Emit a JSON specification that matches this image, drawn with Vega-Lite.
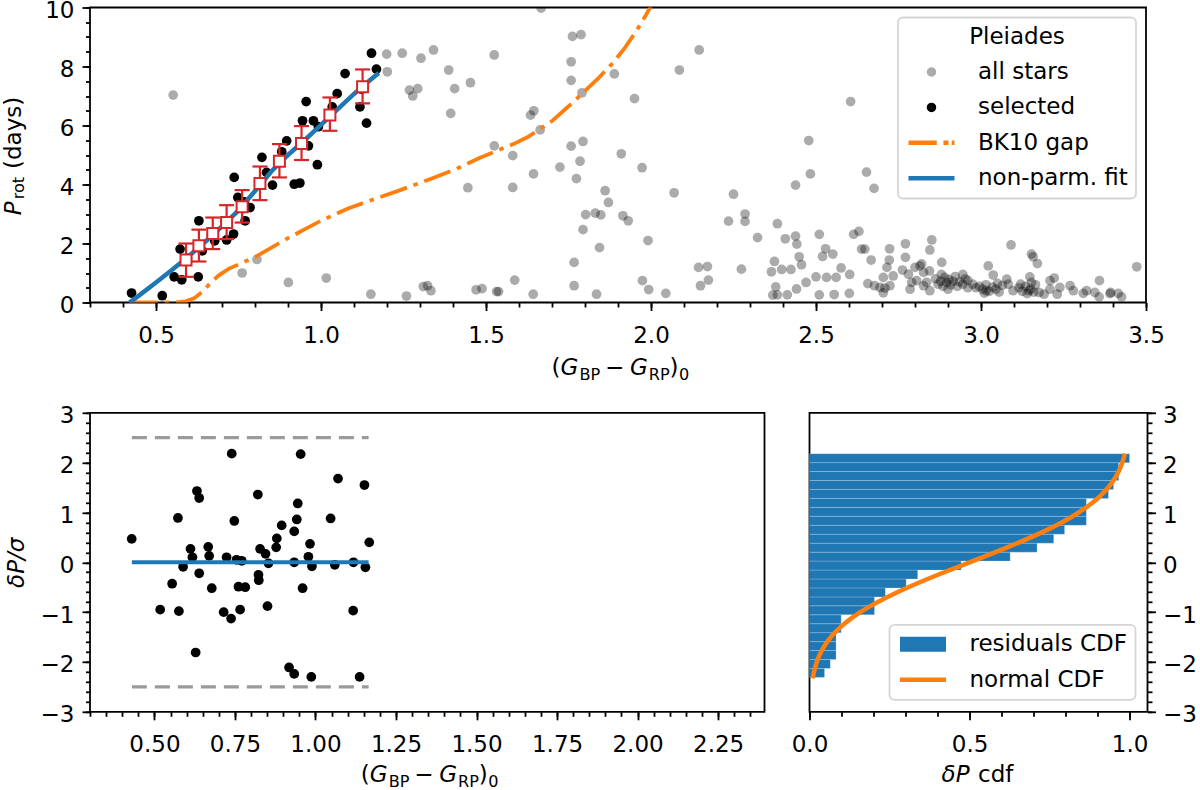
{
  "$schema": "https://vega.github.io/schema/vega-lite/v6.json",
  "background": "white",
  "padding": {"left": 1, "top": -1.5, "right": 2, "bottom": 0},
  "bounds": "flush",
  "spacing": 110.3,
  "config": {
    "font": "DejaVu Sans",
    "view": {"stroke": "#000000", "strokeWidth": 1.8},
    "axis": {
      "domain": false, "grid": false, "tickColor": "#000000", "tickWidth": 1.8,
      "labelFont": "DejaVu Sans", "labelFontSize": 23, "labelColor": "#000000",
      "titleFont": "DejaVu Sans", "titleFontSize": 23, "titleFontWeight": "normal", "titleColor": "#000000",
      "labelOverlap": false, "labelFlush": false, "labelBound": false
    },
    "legend": {
      "labelFont": "DejaVu Sans", "labelFontSize": 23, "labelColor": "#000000",
      "titleFont": "DejaVu Sans", "titleFontSize": 23, "titleFontWeight": "normal", "titleColor": "#000000",
      "fillColor": "rgba(255,255,255,0.85)", "strokeColor": "#d5d5d5", "strokeWidth": 1.8, "cornerRadius": 5,
      "padding": 8, "rowPadding": 11.4, "titleAnchor": "middle", "titlePadding": 12, "labelLimit": 400
    }
  },
  "datasets": {
    "allstars": [
      {"c":0.552,"p":7.03},{"c":0.761,"p":1.0},{"c":0.806,"p":1.46},{"c":0.901,"p":0.68},{"c":1.016,"p":0.83},{"c":1.151,"p":0.28},
      {"c":1.199,"p":8.42},{"c":1.246,"p":8.45},{"c":1.303,"p":8.28},{"c":1.341,"p":8.56},{"c":1.201,"p":7.82},{"c":1.387,"p":7.88},
      {"c":1.525,"p":8.39},{"c":1.268,"p":7.2},{"c":1.293,"p":7.25},{"c":1.278,"p":7.0},{"c":1.405,"p":7.25},{"c":1.453,"p":7.45},
      {"c":1.393,"p":6.41},{"c":1.645,"p":6.5},{"c":1.635,"p":6.35},{"c":1.664,"p":5.85},{"c":1.525,"p":5.31},{"c":1.581,"p":4.98},
      {"c":1.445,"p":3.89},{"c":1.581,"p":3.9},{"c":1.644,"p":4.36},{"c":1.758,"p":8.16},{"c":1.762,"p":9.02},{"c":1.788,"p":9.08},
      {"c":1.758,"p":7.53},{"c":1.791,"p":7.11},{"c":1.889,"p":7.75},{"c":2.086,"p":7.88},{"c":2.146,"p":8.56},{"c":1.95,"p":6.91},
      {"c":1.758,"p":5.3},{"c":1.794,"p":5.46},{"c":1.785,"p":4.79},{"c":1.724,"p":4.59},{"c":1.774,"p":4.2},{"c":1.91,"p":5.04},
      {"c":1.973,"p":4.57},{"c":2.07,"p":3.72},{"c":1.861,"p":3.79},{"c":1.871,"p":3.39},{"c":1.802,"p":2.98},{"c":1.831,"p":3.03},
      {"c":1.848,"p":2.97},{"c":1.915,"p":2.94},{"c":1.931,"p":2.77},{"c":1.794,"p":2.47},{"c":1.844,"p":1.86},{"c":1.991,"p":2.1},
      {"c":1.767,"p":1.36},{"c":1.767,"p":0.57},{"c":1.835,"p":0.28},{"c":1.259,"p":0.22},{"c":1.31,"p":0.54},{"c":1.323,"p":0.57},
      {"c":1.333,"p":0.4},{"c":1.47,"p":0.43},{"c":1.488,"p":0.47},{"c":1.532,"p":0.37},{"c":1.538,"p":0.37},{"c":1.587,"p":0.76},
      {"c":1.643,"p":0.28},{"c":1.974,"p":0.74},{"c":1.993,"p":0.44},{"c":2.045,"p":0.31},{"c":2.144,"p":1.19},{"c":2.15,"p":0.57},
      {"c":1.667,"p":9.98},
      {"c":2.171,"p":1.22},{"c":2.174,"p":0.76},{"c":2.605,"p":6.81},{"c":2.478,"p":5.49},{"c":2.483,"p":4.36},{"c":2.438,"p":3.98},
      {"c":2.653,"p":4.42},{"c":2.676,"p":3.87},{"c":2.25,"p":3.67},{"c":2.235,"p":2.76},{"c":2.285,"p":3.0},{"c":2.285,"p":2.75},
      {"c":2.323,"p":2.2},{"c":2.383,"p":2.67},{"c":2.407,"p":2.16},{"c":2.438,"p":2.25},{"c":2.442,"p":1.98},{"c":2.51,"p":2.31},
      {"c":2.529,"p":1.82},{"c":2.551,"p":1.64},{"c":2.52,"p":1.56},{"c":2.614,"p":2.31},{"c":2.63,"p":2.41},{"c":2.638,"p":1.81},
      {"c":2.648,"p":1.81},{"c":2.667,"p":1.44},{"c":2.723,"p":1.82},{"c":2.771,"p":1.99},{"c":2.274,"p":1.13},
      {"c":2.374,"p":1.39},{"c":2.365,"p":1.04},{"c":2.396,"p":1.12},{"c":2.424,"p":1.12},{"c":2.449,"p":1.55},{"c":2.456,"p":1.28},
      {"c":2.47,"p":0.68},{"c":2.5,"p":0.87},{"c":2.378,"p":0.53},{"c":2.383,"p":0.26},{"c":2.369,"p":0.25},{"c":2.413,"p":0.26},
      {"c":2.441,"p":0.46},{"c":2.51,"p":0.26},{"c":2.555,"p":0.27},{"c":2.601,"p":0.31},{"c":2.532,"p":0.85},{"c":2.561,"p":0.85},
      {"c":2.576,"p":1.17},{"c":2.602,"p":0.95},{"c":2.657,"p":0.64},{"c":2.677,"p":0.57},{"c":2.722,"p":1.44},{"c":2.715,"p":1.19},
      {"c":2.704,"p":0.85},{"c":2.734,"p":0.9},{"c":2.709,"p":0.49},{"c":2.704,"p":0.33},{"c":2.724,"p":0.57},{"c":2.694,"p":0.51},
      {"c":2.771,"p":1.53},{"c":2.762,"p":1.1},{"c":2.78,"p":0.96},{"c":2.79,"p":0.68},{"c":2.785,"p":0.45},{"c":2.8,"p":1.19},
      {"c":2.815,"p":1.24},{"c":2.826,"p":1.02},{"c":2.844,"p":1.07},{"c":2.851,"p":2.12},{"c":2.845,"p":1.78},{"c":2.881,"p":1.36},
      {"c":2.805,"p":0.74},{"c":2.835,"p":0.68},{"c":2.826,"p":0.57},{"c":2.845,"p":0.4},{"c":2.82,"p":1.31},
      {"c":2.862,"p":0.8},{"c":2.87,"p":0.62},{"c":2.878,"p":0.72},{"c":2.885,"p":0.55},{"c":2.89,"p":0.85},{"c":2.896,"p":0.68},
      {"c":2.903,"p":0.78},{"c":2.908,"p":0.6},{"c":2.915,"p":0.72},{"c":2.922,"p":0.88},{"c":2.928,"p":0.55},{"c":2.935,"p":0.7},
      {"c":2.945,"p":0.62},{"c":2.952,"p":0.8},{"c":2.96,"p":0.5},{"c":2.88,"p":0.95},{"c":2.9,"p":0.45},{"c":2.945,"p":0.95},
      {"c":2.96,"p":0.75},{"c":2.975,"p":0.62},{"c":2.985,"p":0.5},
      {"c":2.995,"p":0.55},{"c":3.005,"p":0.45},{"c":3.015,"p":0.6},{"c":3.025,"p":0.38},{"c":3.035,"p":0.52},{"c":3.045,"p":0.45},
      {"c":3.055,"p":0.35},{"c":3.065,"p":0.58},{"c":3.01,"p":0.32},{"c":3.05,"p":0.65},
      {"c":3.115,"p":0.5},{"c":3.125,"p":0.38},{"c":3.135,"p":0.55},{"c":3.14,"p":0.3},{"c":3.15,"p":0.45},{"c":3.16,"p":0.35},
      {"c":3.165,"p":0.6},{"c":3.12,"p":0.62},{"c":3.145,"p":0.4},
      {"c":3.022,"p":1.24},{"c":3.037,"p":0.93},{"c":3.078,"p":0.79},{"c":3.083,"p":0.62},{"c":3.148,"p":0.87},{"c":3.153,"p":0.68},
      {"c":3.209,"p":0.74},{"c":3.222,"p":0.83},{"c":3.359,"p":0.74},{"c":3.27,"p":0.57},{"c":3.28,"p":0.4},{"c":3.31,"p":0.31},
      {"c":3.345,"p":0.34},{"c":3.358,"p":0.19},{"c":3.393,"p":0.34},{"c":3.416,"p":0.31},{"c":3.426,"p":0.19},{"c":3.231,"p":0.28},
      {"c":3.209,"p":0.45},{"c":3.191,"p":0.28},{"c":3.176,"p":0.34},{"c":3.472,"p":1.21},{"c":3.091,"p":1.95},{"c":3.153,"p":1.64},
      {"c":3.158,"p":1.55},{"c":3.171,"p":1.32},{"c":3.016,"p":0.4},{"c":3.097,"p":0.4},{"c":3.239,"p":0.51},{"c":3.32,"p":0.4},
      {"c":3.391,"p":0.3}
    ],
    "selected": [
      {"c":0.426,"p":0.32},{"c":0.519,"p":0.23},{"c":0.555,"p":0.87},{"c":0.578,"p":0.77},{"c":0.573,"p":1.81},{"c":0.628,"p":0.87},
      {"c":0.63,"p":2.77},{"c":0.64,"p":1.75},{"c":0.678,"p":2.09},{"c":0.714,"p":2.12},{"c":0.735,"p":2.32},{"c":0.737,"p":4.24},
      {"c":0.748,"p":3.56},{"c":0.768,"p":3.41},{"c":0.77,"p":2.77},{"c":0.785,"p":3.22},{"c":0.821,"p":4.92},{"c":0.835,"p":4.41},
      {"c":0.853,"p":3.98},{"c":0.896,"p":5.48},{"c":0.881,"p":5.11},{"c":0.919,"p":4.01},{"c":0.936,"p":4.05},{"c":0.944,"p":6.16},
      {"c":0.977,"p":6.16},{"c":0.955,"p":6.81},{"c":0.962,"p":5.31},{"c":0.989,"p":4.67},{"c":0.992,"p":5.96},{"c":1.034,"p":6.63},
      {"c":1.049,"p":7.08},{"c":1.073,"p":7.76},{"c":1.118,"p":6.63},{"c":1.138,"p":6.08},{"c":1.153,"p":8.45},{"c":1.168,"p":7.91},
      {"c":1.123,"p":7.23},
      {"c":0.595,"p":1.5},{"c":0.633,"p":1.95},{"c":0.668,"p":2.3},{"c":0.71,"p":2.75},{"c":0.758,"p":3.2},{"c":0.812,"p":4.0},
      {"c":0.87,"p":4.75},{"c":0.94,"p":5.35},{"c":1.025,"p":6.4},{"c":1.13,"p":7.35}
    ],
    "bins": [
      {"c":0.591,"p":1.44,"lo":0.87,"hi":2.0},{"c":0.63,"p":1.92,"lo":1.39,"hi":2.47},{"c":0.672,"p":2.34,"lo":1.81,"hi":2.88},
      {"c":0.714,"p":2.71,"lo":2.15,"hi":3.3},{"c":0.761,"p":3.25,"lo":2.71,"hi":3.81},{"c":0.815,"p":4.03,"lo":3.47,"hi":4.61},
      {"c":0.874,"p":4.79,"lo":4.24,"hi":5.37},{"c":0.941,"p":5.39,"lo":4.83,"hi":5.98},{"c":1.027,"p":6.36,"lo":5.82,"hi":6.95},
      {"c":1.126,"p":7.31,"lo":6.75,"hi":7.9}
    ],
    "gap": [
      {"c":0.42,"p":0},{"c":0.56,"p":0},{"c":0.59,"p":0.04},{"c":0.615,"p":0.14},{"c":0.64,"p":0.36},{"c":0.665,"p":0.66},
      {"c":0.69,"p":0.92},{"c":0.72,"p":1.14},{"c":0.76,"p":1.34},{"c":0.8,"p":1.54},{"c":0.85,"p":1.86},{"c":0.9,"p":2.18},
      {"c":0.95,"p":2.48},{"c":1.0,"p":2.77},{"c":1.08,"p":3.18},{"c":1.16,"p":3.5},{"c":1.24,"p":3.81},{"c":1.33,"p":4.18},
      {"c":1.41,"p":4.53},{"c":1.48,"p":4.9},{"c":1.53,"p":5.13},{"c":1.583,"p":5.37},{"c":1.625,"p":5.6},{"c":1.664,"p":5.88},
      {"c":1.7,"p":6.15},{"c":1.735,"p":6.5},{"c":1.765,"p":6.8},{"c":1.795,"p":7.12},{"c":1.84,"p":7.6},{"c":1.886,"p":8.14},
      {"c":1.92,"p":8.62},{"c":1.956,"p":9.21},{"c":1.985,"p":9.75},{"c":2.007,"p":10.2},{"c":2.02,"p":10.5}
    ],
    "fit": [
      {"c":0.42,"p":0.0},{"c":0.45,"p":0.25},{"c":0.5,"p":0.68},{"c":0.55,"p":1.12},{"c":0.6,"p":1.58},{"c":0.65,"p":2.07},
      {"c":0.7,"p":2.58},{"c":0.75,"p":3.12},{"c":0.8,"p":3.78},{"c":0.85,"p":4.45},{"c":0.9,"p":5.0},{"c":0.95,"p":5.5},
      {"c":1.0,"p":6.02},{"c":1.05,"p":6.55},{"c":1.1,"p":7.07},{"c":1.15,"p":7.55},{"c":1.175,"p":7.78}
    ],
    "resid": [
      {"c":0.4295,"r":0.47},{"c":0.74,"r":2.18},{"c":0.954,"r":2.17},{"c":1.07,"r":1.68},{"c":1.152,"r":1.55},{"c":0.632,"r":1.43},
      {"c":0.639,"r":1.29},{"c":0.821,"r":1.36},{"c":0.945,"r":1.18},{"c":0.573,"r":0.89},{"c":0.748,"r":0.83},{"c":0.942,"r":0.86},
      {"c":1.047,"r":0.88},{"c":0.895,"r":0.74},{"c":0.934,"r":0.62},{"c":0.88,"r":0.48},{"c":0.878,"r":0.3},{"c":1.167,"r":0.4},
      {"c":0.983,"r":0.37},{"c":0.612,"r":0.27},{"c":0.618,"r":0.1},{"c":0.667,"r":0.31},{"c":0.67,"r":0.13},{"c":0.724,"r":0.1},
      {"c":0.755,"r":0.05},{"c":0.771,"r":0.03},{"c":0.828,"r":0.27},{"c":0.845,"r":0.17},{"c":0.854,"r":-0.02},{"c":0.934,"r":0.0},
      {"c":0.978,"r":0.11},{"c":0.989,"r":-0.08},{"c":1.06,"r":-0.05},{"c":1.118,"r":0.0},{"c":1.155,"r":-0.1},{"c":0.589,"r":-0.09},
      {"c":0.639,"r":-0.22},{"c":0.555,"r":-0.43},{"c":0.678,"r":-0.52},{"c":0.761,"r":-0.49},{"c":0.782,"r":-0.5},{"c":0.823,"r":-0.25},
      {"c":0.824,"r":-0.36},{"c":0.96,"r":-0.52},{"c":0.518,"r":-0.95},{"c":0.576,"r":-0.98},{"c":0.715,"r":-1.0},{"c":0.738,"r":-1.13},
      {"c":0.766,"r":-0.95},{"c":0.851,"r":-0.88},{"c":1.117,"r":-0.97},{"c":0.628,"r":-1.81},{"c":0.918,"r":-2.11},{"c":0.934,"r":-2.24},
      {"c":0.987,"r":-2.3},{"c":1.137,"r":-2.3}
    ],
    "limits": [{"c0":0.43,"c1":1.165,"r":2.5},{"c0":0.43,"c1":1.165,"r":-2.5}],
    "zero": [{"c0":0.43,"c1":1.165,"r":0}],
    "cdfhist": [
      {"lo":-2.31,"hi":-2.13,"cdf":0.047},{"lo":-2.13,"hi":-1.951,"cdf":0.065},{"lo":-1.951,"hi":-1.771,"cdf":0.083},
      {"lo":-1.771,"hi":-1.592,"cdf":0.083},{"lo":-1.592,"hi":-1.412,"cdf":0.083},{"lo":-1.412,"hi":-1.232,"cdf":0.099},
      {"lo":-1.232,"hi":-1.053,"cdf":0.099},{"lo":-1.053,"hi":-0.873,"cdf":0.203},{"lo":-0.873,"hi":-0.694,"cdf":0.203},
      {"lo":-0.694,"hi":-0.514,"cdf":0.237},{"lo":-0.514,"hi":-0.334,"cdf":0.302},{"lo":-0.334,"hi":-0.155,"cdf":0.338},
      {"lo":-0.155,"hi":0.025,"cdf":0.474},{"lo":0.025,"hi":0.204,"cdf":0.627},{"lo":0.204,"hi":0.384,"cdf":0.711},
      {"lo":0.384,"hi":0.564,"cdf":0.763},{"lo":0.564,"hi":0.743,"cdf":0.797},{"lo":0.743,"hi":0.923,"cdf":0.865},
      {"lo":0.923,"hi":1.102,"cdf":0.865},{"lo":1.102,"hi":1.282,"cdf":0.865},{"lo":1.282,"hi":1.462,"cdf":0.934},
      {"lo":1.462,"hi":1.641,"cdf":0.95},{"lo":1.641,"hi":1.821,"cdf":0.966},{"lo":1.821,"hi":2.0,"cdf":0.966},
      {"lo":2.0,"hi":2.18,"cdf":1.0}
    ],
    "normal": [
      {"r":-2.33,"cdf":0.0099},{"r":-2.3,"cdf":0.0107},{"r":-2.2,"cdf":0.0139},{"r":-2.1,"cdf":0.0179},{"r":-2.0,"cdf":0.0228},
      {"r":-1.9,"cdf":0.0287},{"r":-1.8,"cdf":0.0359},{"r":-1.7,"cdf":0.0446},{"r":-1.6,"cdf":0.0548},{"r":-1.5,"cdf":0.0668},
      {"r":-1.4,"cdf":0.0808},{"r":-1.3,"cdf":0.0968},{"r":-1.2,"cdf":0.1151},{"r":-1.1,"cdf":0.1357},{"r":-1.0,"cdf":0.1587},
      {"r":-0.9,"cdf":0.1841},{"r":-0.8,"cdf":0.2119},{"r":-0.7,"cdf":0.242},{"r":-0.6,"cdf":0.2743},{"r":-0.5,"cdf":0.3085},
      {"r":-0.4,"cdf":0.3446},{"r":-0.3,"cdf":0.3821},{"r":-0.2,"cdf":0.4207},{"r":-0.1,"cdf":0.4602},{"r":0.0,"cdf":0.5},
      {"r":0.1,"cdf":0.5398},{"r":0.2,"cdf":0.5793},{"r":0.3,"cdf":0.6179},{"r":0.4,"cdf":0.6554},{"r":0.5,"cdf":0.6915},
      {"r":0.6,"cdf":0.7257},{"r":0.7,"cdf":0.758},{"r":0.8,"cdf":0.7881},{"r":0.9,"cdf":0.8159},{"r":1.0,"cdf":0.8413},
      {"r":1.1,"cdf":0.8643},{"r":1.2,"cdf":0.8849},{"r":1.3,"cdf":0.9032},{"r":1.4,"cdf":0.9192},{"r":1.5,"cdf":0.9332},
      {"r":1.6,"cdf":0.9452},{"r":1.7,"cdf":0.9554},{"r":1.8,"cdf":0.9641},{"r":1.9,"cdf":0.9713},{"r":2.0,"cdf":0.9772},
      {"r":2.1,"cdf":0.9821},{"r":2.18,"cdf":0.9854}
    ]
  },
  "resolve": {"scale": {"color": "independent", "shape": "independent"}, "legend": {"color": "independent", "shape": "independent"}},
  "vconcat": [
    {
      "width": 1056,
      "height": 295,
      "resolve": {"axis": {"x": "independent", "y": "independent"}},
      "layer": [
        {
          "data": {"name": "allstars"},
          "mark": {"type": "point", "filled": true, "size": 95, "color": "#000000", "opacity": 0.33, "clip": true},
          "encoding": {
            "x": {"field": "c", "type": "quantitative", "scale": {"domain": [0.3, 3.5], "nice": false, "zero": false},
              "axis": {"orient": "bottom", "title": null, "labelOverlap": false, "format": ".1f",
                "values": [0.5,1.0,1.5,2.0,2.5,3.0,3.5], "tickSize": 8, "labelPadding": 14}},
            "y": {"field": "p", "type": "quantitative", "scale": {"domain": [0, 10], "nice": false, "zero": false},
              "axis": {"orient": "left", "title": null, "labelOverlap": false, "labelOffset": 3, "format": "d",
                "values": [0,2,4,6,8,10], "tickSize": 8, "labelPadding": 8}}
          }
        },
        {
          "data": {"name": "selected"},
          "mark": {"type": "point", "filled": true, "size": 95, "opacity": 1, "color": "#000000"},
          "encoding": {
            "x": {"field": "c", "type": "quantitative", "axis": null},
            "y": {"field": "p", "type": "quantitative", "axis": null}
          }
        },
        {
          "data": {"name": "gap"},
          "mark": {"type": "line", "strokeWidth": 3.8, "strokeDash": [28, 7, 4.5, 7], "clip": true, "color": "#ff7f0e"},
          "encoding": {
            "x": {"field": "c", "type": "quantitative", "axis": null},
            "y": {"field": "p", "type": "quantitative", "axis": null},
            "order": {"field": "c"}
          }
        },
        {
          "data": {"name": "fit"},
          "mark": {"type": "line", "strokeWidth": 4.5, "clip": true, "color": "#1f77b4"},
          "encoding": {
            "x": {"field": "c", "type": "quantitative", "axis": null},
            "y": {"field": "p", "type": "quantitative", "axis": null},
            "order": {"field": "c"}
          }
        },
        {
          "data": {"name": "bins"},
          "mark": {"type": "rule", "color": "#d62728", "strokeWidth": 2.2},
          "encoding": {
            "x": {"field": "c", "type": "quantitative", "axis": null},
            "y": {"field": "lo", "type": "quantitative", "axis": null},
            "y2": {"field": "hi"}
          }
        },
        {
          "data": {"name": "bins"},
          "mark": {"type": "tick", "orient": "horizontal", "color": "#d62728", "thickness": 2.2, "size": 15, "opacity": 1},
          "encoding": {
            "x": {"field": "c", "type": "quantitative", "axis": null},
            "y": {"field": "lo", "type": "quantitative", "axis": null}
          }
        },
        {
          "data": {"name": "bins"},
          "mark": {"type": "tick", "orient": "horizontal", "color": "#d62728", "thickness": 2.2, "size": 15, "opacity": 1},
          "encoding": {
            "x": {"field": "c", "type": "quantitative", "axis": null},
            "y": {"field": "hi", "type": "quantitative", "axis": null}
          }
        },
        {
          "data": {"name": "bins"},
          "mark": {"type": "point", "shape": "square", "filled": true, "fill": "white", "stroke": "#d62728", "strokeWidth": 2, "size": 121, "opacity": 1},
          "encoding": {
            "x": {"field": "c", "type": "quantitative", "axis": null},
            "y": {"field": "p", "type": "quantitative", "axis": null}
          }
        },
        {
          "data": {"values": []},
          "mark": {"type": "point", "filled": false, "opacity": 1},
          "encoding": {
            "x": {"field": "c", "type": "quantitative", "axis": null},
            "y": {"field": "p", "type": "quantitative", "axis": null},
            "color": {"field": "series", "type": "nominal",
              "scale": {"domain": ["all stars", "selected", "BK10 gap", "non-parm. fit"], "range": ["#aaaaaa", "#000000", "#ff7f0e", "#1f77b4"]},
              "legend": {"title": "Pleiades", "orient": "top-right", "offset": 10, "symbolSize": 2116, "symbolStrokeWidth": 4.5,
                "symbolFillColor": "transparent", "clipHeight": 23, "symbolOffset": 0, "labelOffset": 21}},
            "shape": {"field": "series", "type": "nominal",
              "scale": {"domain": ["all stars", "selected", "BK10 gap", "non-parm. fit"],
                "range": ["M-0.109,0A0.109,0.109,0,1,1,0.109,0A0.109,0.109,0,1,1,-0.109,0Z", "M-0.109,0A0.109,0.109,0,1,1,0.109,0A0.109,0.109,0,1,1,-0.109,0Z", "M-1,0H0.23M0.52,0H0.74M0.88,0H1", "M-1,0H1"]},
              "legend": {"title": "Pleiades", "orient": "top-right", "offset": 10, "symbolSize": 2116, "symbolStrokeWidth": 4.5,
                "symbolFillColor": "transparent", "clipHeight": 23, "symbolOffset": 0, "labelOffset": 21}}
          }
        },
        {
          "data": {"values": []},
          "mark": "point",
          "encoding": {
            "x": {"field": "c", "type": "quantitative", "axis": {"orient": "bottom", "domain": false, "labels": false, "tickSize": 4.5,
              "values": [0.3,0.4,0.5,0.6,0.7,0.8,0.9,1.0,1.1,1.2,1.3,1.4,1.5,1.6,1.7,1.8,1.9,2.0,2.1,2.2,2.3,2.4,2.5,2.6,2.7,2.8,2.9,3.0,3.1,3.2,3.3,3.4,3.5],
              "title": "(", "titleX": 461.1, "titleY": 72, "titleAlign": "left", "titleBaseline": "alphabetic", "titleFontSize": 23}},
            "y": {"field": "p", "type": "quantitative", "axis": {"orient": "left", "domain": false, "labels": false, "tickSize": 4.5,
              "values": [0,0.5,1,1.5,2,2.5,3,3.5,4,4.5,5,5.5,6,6.5,7,7.5,8,8.5,9,9.5,10],
              "title": "P", "titleFontStyle": "italic", "titleAngle": 270, "titleX": -70, "titleY": 207.3, "titleAlign": "left", "titleBaseline": "alphabetic", "titleFontSize": 23}}
          }
        },
        {
          "data": {"values": []},
          "mark": "point",
          "encoding": {
            "x": {"field": "c", "type": "quantitative", "axis": {"orient": "bottom", "domain": false, "ticks": false, "labels": false, "title": "G", "titleFontStyle": "italic", "titleX": 470.1, "titleY": 72, "titleAlign": "left", "titleBaseline": "alphabetic", "titleFontSize": 23}},
            "y": {"field": "p", "type": "quantitative", "axis": {"orient": "left", "domain": false, "ticks": false, "labels": false, "title": "rot", "titleAngle": 270, "titleX": -66.5, "titleY": 191.3, "titleAlign": "left", "titleBaseline": "alphabetic", "titleFontSize": 16.1}}
          }
        },
        {
          "data": {"values": []},
          "mark": "point",
          "encoding": {
            "x": {"field": "c", "type": "quantitative", "axis": {"orient": "bottom", "domain": false, "ticks": false, "labels": false, "title": "BP", "titleX": 488.9, "titleY": 76.5, "titleAlign": "left", "titleBaseline": "alphabetic", "titleFontSize": 16.1}},
            "y": {"field": "p", "type": "quantitative", "axis": {"orient": "left", "domain": false, "ticks": false, "labels": false, "title": "(days)", "titleAngle": 270, "titleX": -70, "titleY": 161, "titleAlign": "left", "titleBaseline": "alphabetic", "titleFontSize": 23}}
          }
        },
        {
          "data": {"values": []},
          "mark": "point",
          "encoding": {
            "x": {"field": "c", "type": "quantitative", "axis": {"orient": "bottom", "domain": false, "ticks": false, "labels": false, "title": "−", "titleX": 514.6, "titleY": 72, "titleAlign": "left", "titleBaseline": "alphabetic", "titleFontSize": 23}},
            "y": {"field": "p", "type": "quantitative", "axis": null}
          }
        },
        {
          "data": {"values": []},
          "mark": "point",
          "encoding": {
            "x": {"field": "c", "type": "quantitative", "axis": {"orient": "bottom", "domain": false, "ticks": false, "labels": false, "title": "G", "titleFontStyle": "italic", "titleX": 539.4, "titleY": 72, "titleAlign": "left", "titleBaseline": "alphabetic", "titleFontSize": 23}},
            "y": {"field": "p", "type": "quantitative", "axis": null}
          }
        },
        {
          "data": {"values": []},
          "mark": "point",
          "encoding": {
            "x": {"field": "c", "type": "quantitative", "axis": {"orient": "bottom", "domain": false, "ticks": false, "labels": false, "title": "RP", "titleX": 558.2, "titleY": 76.5, "titleAlign": "left", "titleBaseline": "alphabetic", "titleFontSize": 16.1}},
            "y": {"field": "p", "type": "quantitative", "axis": null}
          }
        },
        {
          "data": {"values": []},
          "mark": "point",
          "encoding": {
            "x": {"field": "c", "type": "quantitative", "axis": {"orient": "bottom", "domain": false, "ticks": false, "labels": false, "title": ")", "titleX": 579.1, "titleY": 72, "titleAlign": "left", "titleBaseline": "alphabetic", "titleFontSize": 23}},
            "y": {"field": "p", "type": "quantitative", "axis": null}
          }
        },
        {
          "data": {"values": []},
          "mark": "point",
          "encoding": {
            "x": {"field": "c", "type": "quantitative", "axis": {"orient": "bottom", "domain": false, "ticks": false, "labels": false, "title": "0", "titleX": 588.6, "titleY": 76.5, "titleAlign": "left", "titleBaseline": "alphabetic", "titleFontSize": 16.1}},
            "y": {"field": "p", "type": "quantitative", "axis": null}
          }
        }
      ]
    },
    {
      "hconcat": [
        {
          "width": 674.5,
          "height": 299,
          "resolve": {"axis": {"x": "independent", "y": "independent"}},
          "layer": [
            {
              "data": {"name": "resid"},
              "mark": {"type": "point", "filled": true, "size": 95, "opacity": 1, "color": "#000000"},
              "encoding": {
                "x": {"field": "c", "type": "quantitative", "scale": {"domain": [0.3, 2.394], "nice": false, "zero": false},
                  "axis": {"orient": "bottom", "title": null, "labelOverlap": false, "format": ".2f",
                    "values": [0.5,0.75,1.0,1.25,1.5,1.75,2.0,2.25], "tickSize": 8, "labelPadding": 14}},
                "y": {"field": "r", "type": "quantitative", "scale": {"domain": [-3, 3], "nice": false, "zero": false},
                  "axis": {"orient": "left", "labelOverlap": false, "labelOffset": 3, "format": "d",
                    "values": [-3,-2,-1,0,1,2,3], "tickSize": 8, "labelPadding": 8,
                    "title": "δP/σ", "titleFontStyle": "italic", "titleAngle": 270, "titleX": -67, "titleY": 149.5, "titleAlign": "center", "titleBaseline": "alphabetic"}}
              }
            },
            {
              "data": {"name": "limits"},
              "mark": {"type": "rule", "color": "#9a9a9a", "strokeWidth": 3.3, "strokeDash": [15, 8]},
              "encoding": {
                "x": {"field": "c0", "type": "quantitative", "axis": null},
                "x2": {"field": "c1"},
                "y": {"field": "r", "type": "quantitative", "axis": null}
              }
            },
            {
              "data": {"name": "zero"},
              "mark": {"type": "rule", "color": "#1f77b4", "strokeWidth": 4},
              "encoding": {
                "x": {"field": "c0", "type": "quantitative", "axis": null},
                "x2": {"field": "c1"},
                "y": {"field": "r", "type": "quantitative", "axis": null}
              }
            },
            {"data": {"values": []}, "mark": "point", "encoding": {
              "y": {"field": "r", "type": "quantitative", "axis": {"orient": "left", "domain": false, "labels": false, "title": null, "tickSize": 4.5,
                "values": [-3,-2.8,-2.6,-2.4,-2.2,-2,-1.8,-1.6,-1.4,-1.2,-1,-0.8,-0.6,-0.4,-0.2,0,0.2,0.4,0.6,0.8,1,1.2,1.4,1.6,1.8,2,2.2,2.4,2.6,2.8,3]}},
              "x": {"field": "c", "type": "quantitative", "axis": {"orient": "bottom", "domain": false, "labels": false, "tickSize": 4.5,
                "values": [0.3,0.35,0.4,0.45,0.5,0.55,0.6,0.65,0.7,0.75,0.8,0.85,0.9,0.95,1.0,1.05,1.1,1.15,1.2,1.25,1.3,1.35,1.4,1.45,1.5,1.55,1.6,1.65,1.7,1.75,1.8,1.85,1.9,1.95,2.0,2.05,2.1,2.15,2.2,2.25,2.3,2.35],
                "title": "(", "titleX": 270.35, "titleY": 70, "titleAlign": "left", "titleBaseline": "alphabetic", "titleFontSize": 23}}}},
            {"data": {"values": []}, "mark": "point", "encoding": {"y": {"field": "r", "type": "quantitative", "axis": null}, "x": {"field": "c", "type": "quantitative", "axis": {"orient": "bottom", "domain": false, "ticks": false, "labels": false, "title": "G", "titleFontStyle": "italic", "titleX": 279.35, "titleY": 70, "titleAlign": "left", "titleBaseline": "alphabetic", "titleFontSize": 23}}}},
            {"data": {"values": []}, "mark": "point", "encoding": {"y": {"field": "r", "type": "quantitative", "axis": null}, "x": {"field": "c", "type": "quantitative", "axis": {"orient": "bottom", "domain": false, "ticks": false, "labels": false, "title": "BP", "titleX": 298.15, "titleY": 74.5, "titleAlign": "left", "titleBaseline": "alphabetic", "titleFontSize": 16.1}}}},
            {"data": {"values": []}, "mark": "point", "encoding": {"y": {"field": "r", "type": "quantitative", "axis": null}, "x": {"field": "c", "type": "quantitative", "axis": {"orient": "bottom", "domain": false, "ticks": false, "labels": false, "title": "−", "titleX": 323.85, "titleY": 70, "titleAlign": "left", "titleBaseline": "alphabetic", "titleFontSize": 23}}}},
            {"data": {"values": []}, "mark": "point", "encoding": {"y": {"field": "r", "type": "quantitative", "axis": null}, "x": {"field": "c", "type": "quantitative", "axis": {"orient": "bottom", "domain": false, "ticks": false, "labels": false, "title": "G", "titleFontStyle": "italic", "titleX": 348.65, "titleY": 70, "titleAlign": "left", "titleBaseline": "alphabetic", "titleFontSize": 23}}}},
            {"data": {"values": []}, "mark": "point", "encoding": {"y": {"field": "r", "type": "quantitative", "axis": null}, "x": {"field": "c", "type": "quantitative", "axis": {"orient": "bottom", "domain": false, "ticks": false, "labels": false, "title": "RP", "titleX": 367.45, "titleY": 74.5, "titleAlign": "left", "titleBaseline": "alphabetic", "titleFontSize": 16.1}}}},
            {"data": {"values": []}, "mark": "point", "encoding": {"y": {"field": "r", "type": "quantitative", "axis": null}, "x": {"field": "c", "type": "quantitative", "axis": {"orient": "bottom", "domain": false, "ticks": false, "labels": false, "title": ")", "titleX": 388.35, "titleY": 70, "titleAlign": "left", "titleBaseline": "alphabetic", "titleFontSize": 23}}}},
            {"data": {"values": []}, "mark": "point", "encoding": {"y": {"field": "r", "type": "quantitative", "axis": null}, "x": {"field": "c", "type": "quantitative", "axis": {"orient": "bottom", "domain": false, "ticks": false, "labels": false, "title": "0", "titleX": 397.85, "titleY": 74.5, "titleAlign": "left", "titleBaseline": "alphabetic", "titleFontSize": 16.1}}}}
          ]
        },
        {
          "width": 338,
          "height": 299,
          "resolve": {"axis": {"x": "independent", "y": "independent"}},
          "layer": [
            {
              "data": {"name": "cdfhist"},
              "mark": {"type": "rect", "color": "#1f77b4", "stroke": "#ffffff", "strokeWidth": 0.6, "strokeOpacity": 0.35},
              "encoding": {
                "x": {"field": "cdf", "type": "quantitative", "scale": {"domain": [0, 1.056], "nice": false, "zero": false},
                  "axis": {"orient": "bottom", "title": null, "labelOverlap": false, "format": ".1f",
                    "values": [0, 0.5, 1.0], "tickSize": 8, "labelPadding": 14}},
                "x2": {"datum": 0},
                "y": {"field": "lo", "type": "quantitative", "scale": {"domain": [-3, 3], "nice": false, "zero": false},
                  "axis": {"orient": "right", "title": null, "labelOverlap": false, "labelOffset": 3, "format": "d",
                    "values": [-3,-2,-1,0,1,2,3], "tickSize": 8, "labelPadding": 7}},
                "y2": {"field": "hi"}
              }
            },
            {
              "data": {"name": "normal"},
              "mark": {"type": "line", "strokeWidth": 4.5, "color": "#ff7f0e"},
              "encoding": {
                "x": {"field": "cdf", "type": "quantitative",
                  "axis": {"orient": "bottom", "domain": false, "ticks": false, "labels": false, "title": "δP", "titleFontStyle": "italic", "titleX": 131.6, "titleY": 70, "titleAlign": "left", "titleBaseline": "alphabetic", "titleFontSize": 23}},
                "y": {"field": "r", "type": "quantitative", "axis": {"orient": "right", "domain": false, "labels": false, "title": null, "tickSize": 4.5,
                  "values": [-3,-2.8,-2.6,-2.4,-2.2,-2,-1.8,-1.6,-1.4,-1.2,-1,-0.8,-0.6,-0.4,-0.2,0,0.2,0.4,0.6,0.8,1,1.2,1.4,1.6,1.8,2,2.2,2.4,2.6,2.8,3]}},
                "order": {"field": "r"}
              }
            },
            {
              "data": {"values": []},
              "mark": {"type": "point", "filled": false, "opacity": 1},
              "encoding": {
                "x": {"field": "cdf", "type": "quantitative", "axis": {"orient": "bottom", "domain": false, "labels": false, "tickSize": 4.5,
                  "values": [0,0.1,0.2,0.3,0.4,0.5,0.6,0.7,0.8,0.9,1.0],
                  "title": "cdf", "titleX": 168, "titleY": 70, "titleAlign": "left", "titleBaseline": "alphabetic", "titleFontSize": 23}},
                "y": {"field": "r", "type": "quantitative", "axis": null},
                "color": {"field": "series", "type": "nominal",
                  "scale": {"domain": ["residuals CDF", "normal CDF"], "range": ["#1f77b4", "#ff7f0e"]},
                  "legend": {"title": null, "orient": "bottom-right", "offset": 12, "symbolSize": 2116, "symbolStrokeWidth": 4.5,
                    "symbolFillColor": "transparent", "clipHeight": 23, "symbolOffset": 0, "labelOffset": 21}},
                "shape": {"field": "series", "type": "nominal",
                  "scale": {"domain": ["residuals CDF", "normal CDF"], "range": ["M-1,-0.228H1M-1,-0.076H1M-1,0.076H1M-1,0.228H1", "M-1,0H1"]},
                  "legend": {"title": null, "orient": "bottom-right", "offset": 12, "symbolSize": 2116, "symbolStrokeWidth": 4.5,
                    "symbolFillColor": "transparent", "clipHeight": 23, "symbolOffset": 0, "labelOffset": 21}}
              }
            }
          ]
        }
      ],
      "spacing": 44.5,
      "bounds": "flush",
      "resolve": {"scale": {"color": "independent", "shape": "independent"}, "legend": {"color": "independent", "shape": "independent"}}
    }
  ]
}
